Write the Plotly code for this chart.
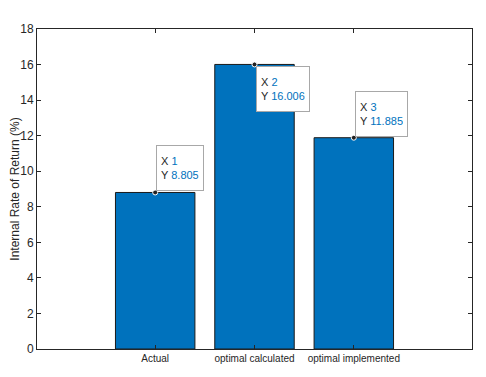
import plotly.graph_objects as go

categories = ["Actual", "optimal calculated", "optimal implemented"]
positions = [1, 2, 3]
irr_values = [8.805, 16.006, 11.885]
tip_labels = ["8.805", "16.006", "11.885"]
y_ticks = [0, 2, 4, 6, 8, 10, 12, 14, 16, 18]

blue = "#0072BD"
axis_color = "#262626"
font_fam = "Liberation Sans Narrow, Liberation Sans, Arial, sans-serif"

fig = go.Figure()
fig.add_trace(go.Bar(
    x=positions, y=irr_values, width=0.8,
    marker=dict(color=blue, line=dict(color="#1a1a1a", width=1)),
    hoverinfo="skip", showlegend=False,
))
fig.add_trace(go.Scatter(
    x=positions, y=irr_values, mode="markers",
    marker=dict(color="#222222", size=5, line=dict(color="white", width=1)),
    hoverinfo="skip", showlegend=False,
))

anchors = ["bottom", "top", "bottom"]
for xi, yi, lab, anc in zip(positions, irr_values, tip_labels, anchors):
    fig.add_annotation(
        x=xi, y=yi, xref="x", yref="y",
        text=f"X <span style='color:{blue}'>{xi}</span><br>Y <span style='color:{blue}'>{lab}</span>",
        showarrow=False, xanchor="left", yanchor=anc, align="left", valign="middle",
        height=36,
        xshift=1, yshift=(1 if anc == "bottom" else -2),
        bgcolor="white", bordercolor="#a8a8a8", borderwidth=1, borderpad=4,
        font=dict(family=font_fam, size=11, color="#262626"),
    )

# page body has an 8px default margin, so the figure is sized to compensate
fig.update_layout(
    width=478, height=369,
    margin=dict(l=29, r=14, t=21, b=28, autoexpand=False),
    paper_bgcolor="white", plot_bgcolor="white",
    font=dict(family=font_fam, size=11, color=axis_color),
    xaxis=dict(
        range=[-0.19, 4.19], tickvals=positions, ticktext=categories,
        showline=True, linecolor=axis_color, linewidth=1, mirror="ticks",
        ticks="inside", ticklen=4, tickcolor=axis_color, automargin=False,
        showgrid=False, zeroline=False, tickfont=dict(size=10),
    ),
    yaxis=dict(
        range=[0, 18], tickvals=y_ticks, automargin=False,
        showline=True, linecolor=axis_color, linewidth=1, mirror="ticks",
        ticks="inside", ticklen=4, tickcolor=axis_color,
        showgrid=False, zeroline=False, tickfont=dict(size=12),
        title=dict(text="Internal Rate of Return (%)", font=dict(size=12), standoff=4),
    ),
)

fig.write_html("out.html")
